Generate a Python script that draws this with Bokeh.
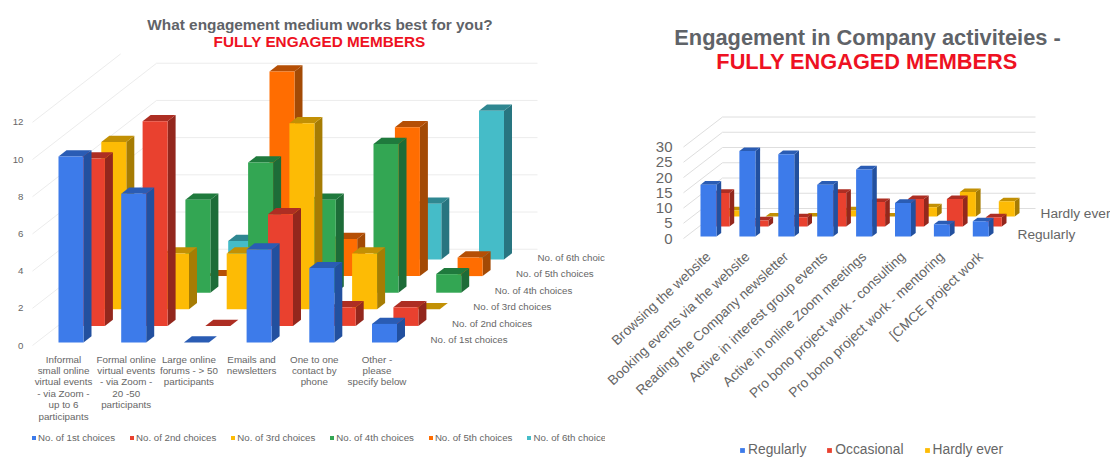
from bokeh.core.properties import value
from bokeh.embed import file_html
from bokeh.layouts import row
from bokeh.models import FixedTicker, Legend, LegendItem, Range1d
from bokeh.plotting import figure
from bokeh.resources import INLINE

FONT = "Liberation Sans"

# --- engagement medium chart ---
medium_categories = [
    "Informal\nsmall online\nvirtual events\n- via Zoom -\nup to 6\nparticipants",
    "Formal online\nvirtual events\n- via Zoom -\n20 -50\nparticipants",
    "Large online\nforums - > 50\nparticipants",
    "Emails and\nnewsletters",
    "One to one\ncontact by\nphone",
    "Other -\nplease\nspecify below",
]
medium_series = ["No. of 1st choices", "No. of 2nd choices", "No. of 3rd choices",
                 "No. of 4th choices", "No. of 5th choices", "No. of 6th choice"]
medium_depth_labels = ["No. of 1st choices", "No. of 2nd choices", "No. of 3rd choices",
                       "No. of 4th choices", "No. of 5th choices", "No. of 6th choic"]
first_choices = [10, 8, 0, 5, 4, 1]
second_choices = [9, 11, 0, 6, 1, 1]
third_choices = [9, 3, 3, 10, 3, 0]
fourth_choices = [0, 5, 7, 5, 8, 1]
fifth_choices = [0, 0, 11, 2, 8, 1]
sixth_choices = [0, 1, 0, 0, 3, 8]
medium_ticks = [0, 2, 4, 6, 8, 10, 12]

# --- company activities chart ---
activity_categories = [
    "Browsing the website", "Booking events via the website",
    "Reading the Company newsletter", "Active in interest group events",
    "Active in online Zoom meetings", "Pro bono project work - consulting",
    "Pro bono project work - mentoring", "[CMCE project work",
]
activity_series = ["Regularly", "Occasional", "Hardly ever"]
regularly = [17, 28, 27, 17, 22, 11, 4, 5]
occasional = [11, 2, 3, 11, 8, 9, 9, 3]
hardly_ever = [2, 0, 0, 2, 0, 3, 8, 5]
activity_ticks = [0, 5, 10, 15, 20, 25, 30]

# front, side and top shades for each series colour
BLUE = ("#3d7bea", "#22509f", "#2a5cb4")
RED = ("#e9412f", "#93271d", "#ad2e23")
YELLOW = ("#fdbb05", "#a67c03", "#c29004")
GREEN = ("#33a653", "#1d6c38", "#1f7a3d")
ORANGE = ("#ff6d01", "#a34a05", "#b54f05")
TEAL = ("#45bcc8", "#287580", "#2f8791")


def draw_chart(width, height, x0, y0, x_unit, y_unit, dx, dy, bar_w, bar_off, side,
               first_depth, categories, series, palette, ticks, wall_left, wall_right,
               wall_depth, grid_color, back_ticks, tick_size, cat_size, orientation,
               cat_standoff, tick_standoff, left_px, line_height):
    """Oblique 3D column chart: x in category units, y in value units, depth in series units."""
    p = figure(width=width, height=height, output_backend="svg", toolbar_location=None,
               min_border=0, outline_line_color=None, background_fill_color="white",
               x_range=Range1d((left_px - x0) / x_unit, (left_px + width - x0) / x_unit),
               y_range=Range1d((y0 - height) / y_unit, y0 / y_unit))
    p.grid.visible = False

    def xd(category, depth, shift=0.0):
        return category + (shift + depth * dx) / x_unit

    def yd(val, depth):
        return val + depth * dy / y_unit

    wall_x = (wall_left - x0) / x_unit
    wall_xr = (wall_right - x0) / x_unit
    back_x = wall_x + wall_depth * dx / x_unit

    # floor diagonals and back-wall lines
    for t in ticks:
        frac = 1.0 if t in back_ticks else 0.71
        p.line([wall_x, wall_x + frac * (back_x - wall_x)],
               [t, yd(t, frac * wall_depth)], line_color=grid_color, line_width=1)
    for t in back_ticks:
        p.line([back_x, wall_xr], [yd(t, wall_depth)] * 2, line_color=grid_color, line_width=1)

    fronts = []
    for s in reversed(range(len(series))):
        vals = palette[s][0]
        front, side_c, top_c = palette[s][1]
        depth = first_depth + s
        cats = list(range(len(vals)))
        left = [xd(c, depth, bar_off) for c in cats]
        right = [xd(c, depth, bar_off + bar_w) for c in cats]
        base = [yd(0, depth)] * len(vals)
        top = [yd(v, depth) for v in vals]
        sx = side / dx
        # zero columns keep only their flat top face
        side_xs = [[r, r + side / x_unit, r + side / x_unit, r] for r in right]
        side_ys = [[b, b + sx * dy / y_unit, t + sx * dy / y_unit, t] for b, t in zip(base, top)]
        top_xs = [[l, l + side / x_unit, r + side / x_unit, r] for l, r in zip(left, right)]
        top_ys = [[t, t + sx * dy / y_unit, t + sx * dy / y_unit, t] for t in top]
        shown = [i for i, v in enumerate(vals) if v > 0 or palette[s][2][i]]
        p.patches([side_xs[i] for i in shown], [side_ys[i] for i in shown],
                  fill_color=side_c, line_color=None)
        p.patches([top_xs[i] for i in shown], [top_ys[i] for i in shown],
                  fill_color=top_c, line_color=None)
        r = p.quad(left=[left[i] for i in shown], right=[right[i] for i in shown],
                   bottom=[base[i] for i in shown], top=[top[i] for i in shown],
                   fill_color=front, line_color=None)
        fronts.insert(0, r)

    yaxis = p.yaxis[0]
    yaxis.ticker = FixedTicker(ticks=ticks)
    yaxis.fixed_location = wall_x
    yaxis.axis_line_color = None
    yaxis.major_tick_line_color = None
    yaxis.minor_tick_line_color = None
    yaxis.major_label_standoff = tick_standoff
    yaxis.major_label_text_font = FONT
    yaxis.major_label_text_font_size = tick_size
    yaxis.major_label_text_color = "#666666"

    xaxis = p.xaxis[0]
    xaxis.ticker = FixedTicker(ticks=list(range(len(categories))))
    xaxis.major_label_overrides = {i: c for i, c in enumerate(categories)}
    xaxis.fixed_location = 0
    xaxis.axis_line_color = None
    xaxis.major_tick_line_color = None
    xaxis.minor_tick_line_color = None
    xaxis.major_label_standoff = cat_standoff
    xaxis.major_label_text_font = FONT
    xaxis.major_label_text_font_size = cat_size
    xaxis.major_label_text_color = "#666666"
    xaxis.major_label_text_line_height = line_height
    if orientation:
        xaxis.major_label_orientation = orientation
    return p, fronts


def add_text(p, x, y, text, size, color, x0, y0, x_unit, y_unit, style="normal", align="left"):
    p.text([(x - x0) / x_unit], [(y0 - y) / y_unit], text=[text],
           text_font=value(FONT), text_font_size=size, text_color=color,
           text_font_style=style, text_align=align, text_baseline="middle")


def add_legend(p, fronts, labels, x, y, size, glyph, spacing, standoff):
    legend = Legend(items=[LegendItem(label=l, renderers=[r]) for l, r in zip(labels, fronts)],
                    orientation="horizontal", location=(x, y), border_line_color=None,
                    background_fill_alpha=0, padding=0, margin=0, spacing=spacing,
                    glyph_width=glyph, glyph_height=glyph, label_standoff=standoff,
                    label_text_font=FONT, label_text_font_size=size,
                    label_text_color="#666666", label_height=glyph)
    p.add_layout(legend, "center")


# left chart
m0 = (63.0, 345.0, 62.7, 18.6)
medium_palette = [
    (first_choices, BLUE, [False, False, True, False, False, False]),
    (second_choices, RED, [False, False, True, False, False, False]),
    (third_choices, YELLOW, [False, False, False, False, False, True]),
    (fourth_choices, GREEN, [False] * 6),
    (fifth_choices, ORANGE, [False, True, False, False, False, False]),
    (sixth_choices, TEAL, [False] * 6),
]
left_chart, left_fronts = draw_chart(
    605, 457, *m0, dx=21.4, dy=16.6, bar_w=25.0, bar_off=-8.85, side=8.0, first_depth=0.18,
    categories=medium_categories, series=medium_series, palette=medium_palette,
    ticks=medium_ticks, wall_left=32.0, wall_right=537.0, wall_depth=5.8,
    grid_color="#ececec", back_ticks=[0, 2, 4, 6, 8, 10], tick_size="9.7px", cat_size="9.8px",
    orientation=None, cat_standoff=2, tick_standoff=3, left_px=0.0, line_height=1.04)

add_text(left_chart, 319.5, 24, "What engagement medium works best for you?", "15.35px",
         "#5f6368", *m0, style="bold", align="center")
add_text(left_chart, 319, 41, "FULLY ENGAGED MEMBERS", "15.3px", "#ee1122", *m0,
         style="bold", align="center")
for i, name in enumerate(medium_depth_labels):
    add_text(left_chart, 430 + 21.4 * i, 339 - 16.4 * i, name, "9.7px", "#666666", *m0)
add_legend(left_chart, left_fronts, medium_series, 31, 14, "9.7px", 5, 14, 2)

# right chart
a0 = (708.0, 238.0, 38.9, 3.05)
activity_palette = [
    (regularly, BLUE, [False] * 8),
    (occasional, RED, [False] * 8),
    (hardly_ever, YELLOW, [False, True, True, False, True, False, False, False]),
]
right_chart, right_fronts = draw_chart(
    505, 457, *a0, dx=13.0, dy=10.0, bar_w=16.0, bar_off=-10.6, side=4.7, first_depth=0.2,
    categories=activity_categories, series=activity_series, palette=activity_palette,
    ticks=activity_ticks, wall_left=683.0, wall_right=1035.0, wall_depth=3.0,
    grid_color="#dedede", back_ticks=activity_ticks, tick_size="15px", cat_size="13.7px",
    orientation=0.75, cat_standoff=10, tick_standoff=5, left_px=605.0, line_height=1.2)

add_text(right_chart, 867, 37, "Engagement in Company activiteies -", "21.8px", "#5f6368",
         *a0, style="bold", align="center")
add_text(right_chart, 866.5, 61, "FULLY ENGAGED MEMBERS", "21.75px", "#ee1122", *a0,
         style="bold", align="center")
add_text(right_chart, 1017, 234, activity_series[0], "13.7px", "#666666", *a0)
add_text(right_chart, 1040, 213, activity_series[2], "13.7px", "#666666", *a0)
add_legend(right_chart, right_fronts, activity_series, 134, 0, "13.8px", 6, 20, 3)

layout = row(left_chart, right_chart, spacing=0)
open("out.html", "w").write(file_html(layout, INLINE))
